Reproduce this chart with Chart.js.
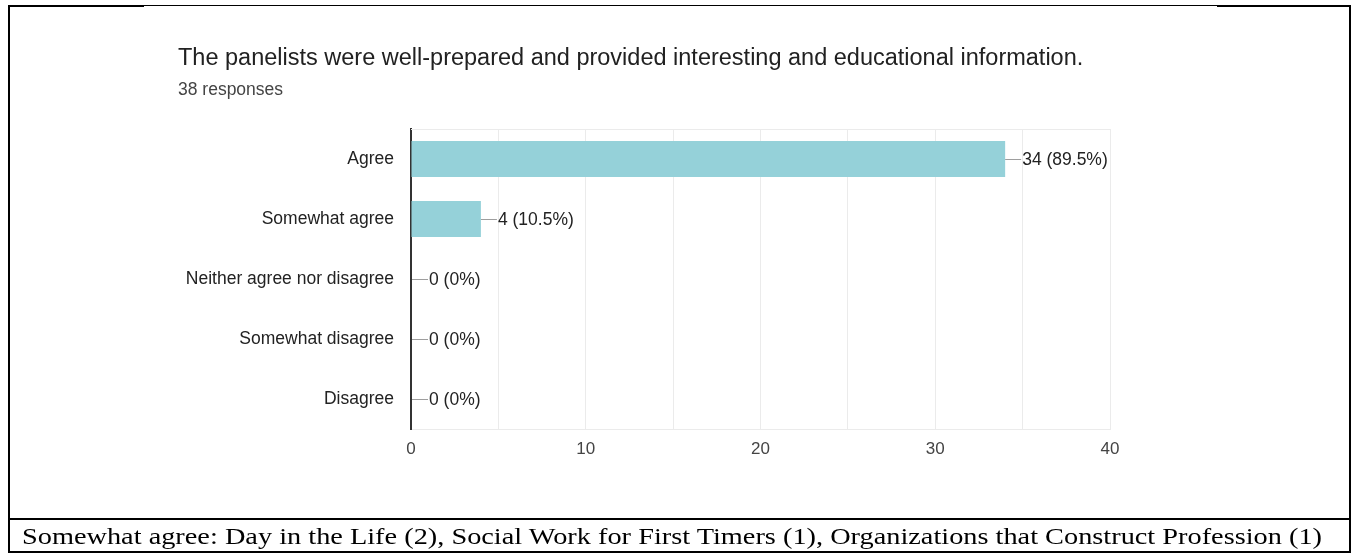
<!DOCTYPE html>
<html>
<head>
<meta charset="utf-8">
<script src="https://cdn.jsdelivr.net/npm/chart.js@4"></script>
<style>
  html, body { margin:0; padding:0; background:#fff; }
  body { width:1354px; height:553px; position:relative; overflow:hidden; }
  .ln { position:absolute; background:#000; }
  #title { position:absolute; left:178px; top:43px; font-family:"Liberation Sans", Arial, sans-serif; font-size:23.5px; color:#212121; white-space:nowrap; line-height:28px; }
  #sub { position:absolute; left:178px; top:79px; font-family:"Liberation Sans", Arial, sans-serif; font-size:17.5px; color:#444; white-space:nowrap; line-height:20px; }
  #cap { position:absolute; left:22px; top:521px; font-family:"Liberation Serif", serif; font-size:24px; color:#000; white-space:nowrap; line-height:30px; transform-origin:0 0; }
  #wrap { position:absolute; left:0; top:0; width:1354px; height:518px; }
</style>
</head>
<body>
<div id="wrap"><canvas id="c"></canvas></div>
<div class="ln" style="left:8px;top:5px;width:136px;height:2px"></div>
<div class="ln" style="left:143px;top:5px;width:1075px;height:1px"></div>
<div class="ln" style="left:1217px;top:5px;width:134px;height:2px"></div>
<div class="ln" style="left:8px;top:5px;width:2px;height:548px"></div>
<div class="ln" style="left:1349px;top:5px;width:2px;height:548px"></div>
<div class="ln" style="left:8px;top:518px;width:1343px;height:2px"></div>
<div class="ln" style="left:8px;top:551px;width:1343px;height:2px"></div>
<div id="title">The panelists were well-prepared and provided interesting and educational information.</div>
<div id="sub">38 responses</div>
<div id="cap">Somewhat agree: Day in the Life (2), Social Work for First Timers (1), Organizations that Construct Profession (1)</div>
<script>
const categories = ["Agree", "Somewhat agree", "Neither agree nor disagree", "Somewhat disagree", "Disagree"];
const counts = [34, 4, 0, 0, 0];
const percents = ["89.5%", "10.5%", "0%", "0%", "0%"];
const xTicks = [0, 10, 20, 30, 40];

// stretch caption horizontally to match the serif face width of the original
(function(){
  const cap = document.getElementById('cap');
  const w = cap.getBoundingClientRect().width;
  cap.style.transform = 'scaleX(' + (1300 / w) + ')';
})();

const FONT = '"Liberation Sans", Arial, sans-serif';

const labelPlugin = {
  id: 'barLabels',
  afterDatasetsDraw(chart) {
    const ctx = chart.ctx;
    const meta = chart.getDatasetMeta(0);
    ctx.save();
    meta.data.forEach((bar, i) => {
      const x0 = bar.x + (counts[i] === 0 ? 1 : 0);
      const y = bar.y;
      ctx.strokeStyle = '#9e9e9e';
      ctx.lineWidth = 1;
      ctx.beginPath();
      ctx.moveTo(x0, Math.round(y) + 0.5);
      ctx.lineTo(x0 + 16, Math.round(y) + 0.5);
      ctx.stroke();
      ctx.fillStyle = '#222';
      ctx.font = '17.5px ' + FONT;
      ctx.textBaseline = 'middle';
      ctx.textAlign = 'left';
      ctx.fillText(counts[i] + ' (' + percents[i] + ')', x0 + 17, y + 1);
    });
    ctx.restore();
  },
  beforeDatasetsDraw(chart) {
    const a = chart.chartArea, ctx = chart.ctx;
    ctx.save();
    ctx.strokeStyle = '#ebebeb';
    ctx.lineWidth = 1;
    ctx.beginPath();
    ctx.moveTo(a.left, a.top + 0.5);
    ctx.lineTo(a.right, a.top + 0.5);
    ctx.stroke();
    ctx.restore();
  }
};

new Chart(document.getElementById('c'), {
  type: 'bar',
  data: {
    labels: categories,
    datasets: [{
      data: counts,
      backgroundColor: '#95d1d9',
      borderWidth: 0,
      categoryPercentage: 0.6,
      barPercentage: 1.0
    }]
  },
  options: {
    indexAxis: 'y',
    responsive: true,
    maintainAspectRatio: false,
    animation: false,
    layout: { padding: { left: 20, right: 244, top: 129, bottom: 59 } },
    plugins: { legend: { display: false }, tooltip: { enabled: false }, title: { display: false } },
    scales: {
      x: {
        min: 0, max: 40,
        afterFit(s) { s.height = 30; },
        afterBuildTicks(s) { s.ticks = [0,5,10,15,20,25,30,35,40].map(v => ({ value: v })); },
        grid: { color: '#ebebeb', drawTicks: false, lineWidth: 1 },
        border: { display: true, color: '#ebebeb', width: 1 },
        ticks: {
          padding: 10,
          color: '#444',
          font: { family: FONT, size: 17 },
          autoSkip: false,
          maxRotation: 0,
          callback: v => xTicks.includes(v) ? String(v) : ''
        }
      },
      y: {
        afterFit(s) { s.width = 391; },
        grid: { display: false, drawTicks: false },
        border: { display: true, color: '#333', width: 2 },
        ticks: {
          padding: 17,
          color: '#222',
          font: { family: FONT, size: 17.5 }
        }
      }
    }
  },
  plugins: [labelPlugin]
});
</script>
</body>
</html>
